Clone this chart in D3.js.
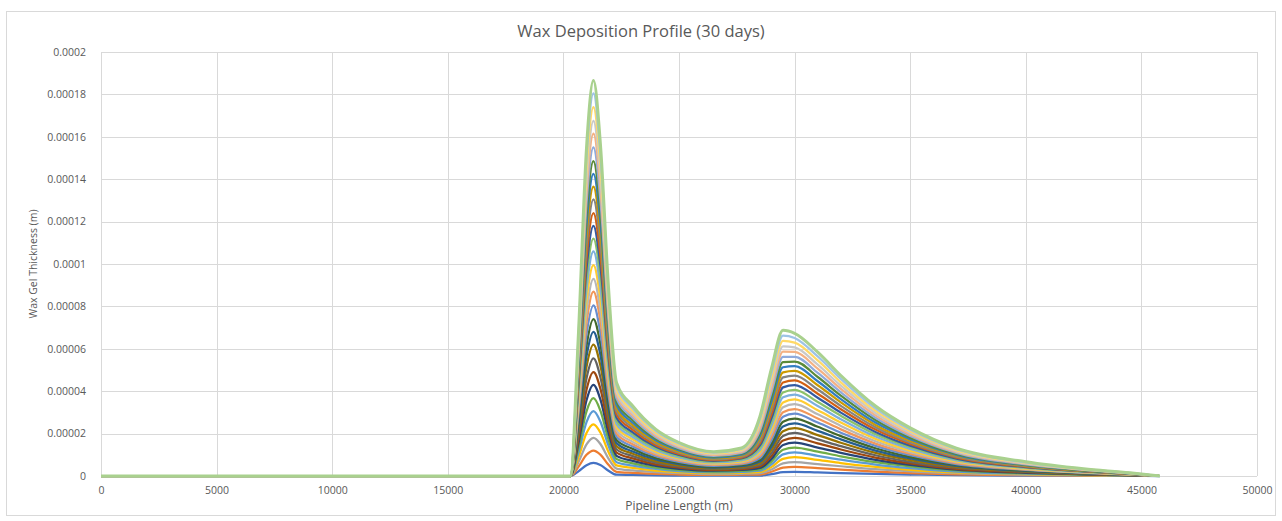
<!DOCTYPE html>
<html>
<head>
<meta charset="utf-8">
<script src="https://cdn.jsdelivr.net/npm/d3@7"></script>
<style>
  body { margin: 0; background: #fff; }
  svg text { font-family: "Open Sans", "DejaVu Sans", sans-serif; fill: #595959; }
</style>
</head>
<body>
<svg id="chart" width="1282" height="521"></svg>
<script>
const chartTitle = 'Wax Deposition Profile (30 days)'
const xTitle = 'Pipeline Length (m)'
const yTitle = 'Wax Gel Thickness (m)'

// x ticks (m) and y ticks (m)
const xTicks = [0, 5000, 10000, 15000, 20000, 25000, 30000, 35000, 40000, 45000, 50000]
const yTicks = [0, 0.00002, 0.00004, 0.00006, 0.00008, 0.0001, 0.00012, 0.00014, 0.00016, 0.00018, 0.0002]

// one line per day, Excel default series colours
const days = [1, 2, 3, 4, 5, 6, 7, 8, 9, 10, 11, 12, 13, 14, 15, 16, 17, 18, 19, 20, 21, 22, 23, 24, 25, 26, 27, 28, 29, 30]
const dayColors = [
  '#4472C4', '#ED7D31', '#A5A5A5', '#FFC000', '#5B9BD5', '#70AD47',
  '#264478', '#9E480E', '#636363', '#997300', '#255E91', '#43682B',
  '#698ED0', '#F1975A', '#B7B7B7', '#FFCD33', '#7CAFDD', '#8CC168',
  '#335AA1', '#D26012', '#848484', '#CC9A00', '#327DC2', '#5A8A39',
  '#8FAADC', '#F4B183', '#C9C9C9', '#FFD966', '#9DC3E6', '#A9D18E'
]

// distance along the pipeline (m)
const distances = [0, 20300, 20650, 21000, 21300, 21600, 21950, 22300, 23000, 24000, 25000, 26500, 27700,
  28500, 29000, 29500, 30000, 31000, 32000, 33500, 35000, 37000, 40000, 42500, 44500, 45800]

// wax gel thickness in micrometres, one row per day
const thicknessUm = [
  [0, 0, 2.2, 5.1, 6.2, 5.2, 2.5, 0.6, 0.5, 0.3, 0.2, 0.2, 0.2, 0.2, 0.9, 1.8, 2.0, 1.7, 1.4, 1.0, 0.7, 0.4, 0.2, 0.1, 0.04, 0],
  [0, 0, 4.3, 10, 12, 10.1, 5.3, 2, 1.5, 1, 0.7, 0.5, 0.6, 0.7, 2.0, 3.9, 4.3, 3.7, 3.0, 2.1, 1.4, 0.8, 0.4, 0.2, 0.1, 0],
  [0, 0, 6.5, 14.9, 18, 15.1, 8.2, 3.5, 2.6, 1.8, 1.3, 0.9, 1.05, 1.3, 3.1, 6.0, 6.6, 5.6, 4.6, 3.2, 2.2, 1.3, 0.6, 0.3, 0.15, 0],
  [0, 0, 8.8, 20.3, 24.4, 20.5, 11.3, 5, 3.8, 2.5, 1.8, 1.3, 1.5, 1.9, 4.3, 8.1, 8.9, 7.6, 6.1, 4.3, 2.9, 1.7, 0.9, 0.4, 0.2, 0],
  [0, 0, 11, 25.4, 30.6, 25.7, 14.3, 6.5, 4.9, 3.3, 2.3, 1.7, 1.95, 2.5, 5.5, 10.2, 11.2, 9.5, 7.7, 5.4, 3.7, 2.1, 1.1, 0.6, 0.25, 0],
  [0, 0, 13.2, 30.5, 36.7, 30.8, 17.2, 8, 6, 4, 2.9, 2.1, 2.4, 3.1, 6.8, 12.4, 13.4, 11.5, 9.3, 6.5, 4.5, 2.6, 1.3, 0.7, 0.3, 0],
  [0, 0, 15.5, 35.7, 43, 36.1, 20.3, 9.5, 7.1, 4.8, 3.4, 2.5, 2.85, 3.8, 8.1, 14.6, 15.7, 13.4, 10.9, 7.6, 5.2, 3.0, 1.5, 0.8, 0.35, 0],
  [0, 0, 17.6, 40.7, 49, 41.2, 23.1, 11, 8.3, 5.5, 4.0, 2.9, 3.3, 4.5, 9.4, 16.7, 18.0, 15.4, 12.5, 8.7, 6.0, 3.4, 1.8, 0.9, 0.4, 0],
  [0, 0, 20, 46.1, 55.5, 46.6, 26.3, 12.5, 9.4, 6.3, 4.5, 3.25, 3.75, 5.2, 10.8, 18.9, 20.3, 17.3, 14.1, 9.8, 6.7, 3.9, 2.0, 1.0, 0.45, 0],
  [0, 0, 22.3, 51.5, 62, 52.1, 29.3, 14, 10.5, 7, 5, 3.6, 4.2, 6.0, 12.3, 21.1, 22.6, 19.3, 15.7, 10.9, 7.5, 4.3, 2.2, 1.1, 0.5, 0],
  [0, 0, 24.5, 56.4, 68, 57.1, 32.2, 15.5, 11.6, 7.8, 5.6, 4.0, 4.65, 6.8, 13.8, 23.4, 24.8, 21.3, 17.3, 12, 8.3, 4.8, 2.4, 1.25, 0.55, 0],
  [0, 0, 26.6, 61.4, 74, 62.2, 35.1, 17, 12.8, 8.5, 6.1, 4.4, 5.1, 7.7, 15.3, 25.6, 27.1, 23.2, 18.8, 13.1, 9.0, 5.2, 2.6, 1.4, 0.6, 0],
  [0, 0, 29, 66.8, 80.5, 67.6, 38.3, 18.5, 13.9, 9.3, 6.7, 4.8, 5.55, 8.5, 16.9, 27.9, 29.4, 25.2, 20.4, 14.2, 9.8, 5.6, 2.9, 1.5, 0.65, 0],
  [0, 0, 31.3, 72.2, 87, 73.1, 41.3, 20, 15, 10, 7.2, 5.2, 6.0, 9.4, 18.5, 30.1, 31.6, 27.1, 22, 15.3, 10.5, 6.1, 3.1, 1.6, 0.7, 0],
  [0, 0, 33.5, 77.2, 93, 78.1, 44.3, 21.5, 16.1, 10.8, 7.7, 5.6, 6.45, 10.3, 20.2, 32.4, 33.9, 29.1, 23.6, 16.4, 11.3, 6.5, 3.3, 1.7, 0.75, 0],
  [0, 0, 35.8, 82.6, 99.5, 83.6, 47.3, 23, 17.3, 11.5, 8.3, 6.0, 6.9, 11.3, 21.9, 34.7, 36.1, 31, 25.2, 17.5, 12, 6.9, 3.5, 1.8, 0.8, 0],
  [0, 0, 38.2, 88, 106, 89, 50.5, 24.5, 18.4, 12.3, 8.8, 6.4, 7.35, 12.3, 23.7, 37.1, 38.4, 33, 26.8, 18.6, 12.8, 7.4, 3.8, 1.9, 0.85, 0],
  [0, 0, 40.3, 93, 112, 94.1, 53.3, 26, 19.5, 13, 9.4, 6.8, 7.8, 13.3, 25.5, 39.4, 40.6, 34.9, 28.4, 19.7, 13.6, 7.8, 4.0, 2.1, 0.9, 0],
  [0, 0, 42.5, 97.9, 118, 99.1, 56.3, 27.5, 20.6, 13.8, 9.9, 7.15, 8.25, 14.4, 27.3, 41.8, 42.9, 36.9, 29.9, 20.8, 14.3, 8.2, 4.2, 2.2, 0.95, 0],
  [0, 0, 44.6, 102.9, 124, 104.2, 59.1, 29, 21.8, 14.5, 10.4, 7.5, 8.7, 15.5, 29.2, 44.1, 45.1, 38.8, 31.5, 21.9, 15.1, 8.7, 4.4, 2.3, 1.0, 0],
  [0, 0, 47, 108.3, 130.5, 109.6, 62.3, 30.5, 22.9, 15.3, 11, 7.9, 9.15, 16.6, 31.2, 46.5, 47.3, 40.8, 33.1, 23, 15.8, 9.1, 4.7, 2.4, 1.05, 0],
  [0, 0, 49.1, 113.3, 136.5, 114.7, 65.1, 32, 24, 16, 11.5, 8.3, 9.6, 17.8, 33.2, 48.9, 49.6, 42.8, 34.7, 24.1, 16.6, 9.6, 4.9, 2.5, 1.1, 0],
  [0, 0, 51.3, 118.3, 142.5, 119.7, 68.1, 33.5, 25.1, 16.8, 12.1, 8.7, 10.05, 19.0, 35.2, 51.3, 51.8, 44.7, 36.3, 25.2, 17.4, 10, 5.1, 2.6, 1.15, 0],
  [0, 0, 53.5, 123.3, 148.5, 124.7, 71, 35, 26.3, 17.5, 12.6, 9.1, 10.5, 20.2, 37.3, 53.7, 54, 46.7, 37.9, 26.4, 18.1, 10.4, 5.3, 2.7, 1.2, 0],
  [0, 0, 55.8, 128.7, 155, 130.2, 74.1, 36.5, 27.4, 18.3, 13.1, 9.5, 10.95, 21.4, 39.5, 56.2, 56.2, 48.6, 39.5, 27.5, 18.9, 10.9, 5.5, 2.9, 1.25, 0],
  [0, 0, 58.1, 134, 161.5, 135.7, 77.1, 38, 28.5, 19, 13.7, 9.9, 11.4, 22.7, 41.7, 58.7, 58.5, 50.6, 41.1, 28.6, 19.6, 11.3, 5.8, 3.0, 1.3, 0],
  [0, 0, 60.3, 139, 167.5, 140.7, 80.1, 39.5, 29.6, 19.8, 14.2, 10.3, 11.85, 24.1, 43.9, 61.2, 60.7, 52.5, 42.6, 29.7, 20.4, 11.7, 6.0, 3.1, 1.35, 0],
  [0, 0, 62.6, 144.4, 174, 146.2, 83.1, 41, 30.8, 20.5, 14.8, 10.7, 12.3, 25.4, 46.2, 63.7, 62.9, 54.5, 44.2, 30.8, 21.2, 12.2, 6.2, 3.2, 1.4, 0],
  [0, 0, 65, 149.8, 180.5, 151.6, 86.3, 42.5, 31.9, 21.3, 15.3, 11.05, 12.75, 26.8, 48.5, 66.2, 65.1, 56.4, 45.8, 31.9, 21.9, 12.6, 6.4, 3.3, 1.45, 0],
  [0, 0, 67.1, 154.8, 186.5, 156.7, 89.1, 44, 33, 22, 15.8, 11.45, 13.2, 28.1, 50.8, 68.7, 67.3, 58.4, 47.4, 33, 22.7, 13.1, 6.7, 3.4, 1.5, 0]
]

const svg = d3.select('#chart')

// chart area border
svg.append('rect')
  .attr('x', 6.5).attr('y', 11.5)
  .attr('width', 1269).attr('height', 504)
  .attr('fill', '#fff')
  .attr('stroke', '#d9d9d9')

const x = d3.scaleLinear().domain([0, 50000]).range([101, 1257])
const y = d3.scaleLinear().domain([0, 0.0002]).range([476, 52])

// gridlines
svg.append('g')
  .selectAll('line')
  .data(yTicks)
  .enter().append('line')
  .attr('x1', x(0)).attr('x2', x(50000))
  .attr('y1', d => Math.round(y(d)) + 0.5).attr('y2', d => Math.round(y(d)) + 0.5)
  .attr('stroke', '#d9d9d9')

svg.append('g')
  .selectAll('line')
  .data(xTicks)
  .enter().append('line')
  .attr('x1', d => Math.round(x(d)) + 0.5).attr('x2', d => Math.round(x(d)) + 0.5)
  .attr('y1', y(0.0002)).attr('y2', y(0))
  .attr('stroke', '#d9d9d9')

// axes (labels only, Excel style)
const xAxis = svg.append('g')
  .attr('transform', `translate(0,${y(0) + 8})`)
  .call(d3.axisBottom(x).tickValues(xTicks).tickSize(0).tickFormat(d => String(d)))
xAxis.select('.domain').remove()
xAxis.selectAll('text')
  .style('font-size', '10.5px')
  .attr('fill', '#595959')

const yAxis = svg.append('g')
  .attr('transform', `translate(${x(0) - 12},0)`)
  .call(d3.axisLeft(y).tickValues(yTicks).tickSize(0).tickFormat(d => String(+d.toFixed(6))))
yAxis.select('.domain').remove()
yAxis.selectAll('text')
  .style('font-size', '10.5px')
  .attr('fill', '#595959')

// series, day 1 at the bottom, day 30 drawn last
const line = d3.line()
  .x((d, i) => x(distances[i]))
  .y(d => y(d * 1e-6))
  .curve(d3.curveMonotoneX)

svg.append('g')
  .selectAll('path')
  .data(thicknessUm)
  .enter().append('path')
  .attr('d', line)
  .attr('fill', 'none')
  .attr('stroke', (d, i) => dayColors[i])
  .attr('stroke-width', (d, i) => i === days.length - 1 ? 3 : 2.25)
  .attr('stroke-linejoin', 'round')

// titles
svg.append('text')
  .attr('x', 641).attr('y', 37)
  .attr('text-anchor', 'middle')
  .style('font-size', '16.5px')
  .text(chartTitle)

svg.append('text')
  .attr('x', (x(0) + x(50000)) / 2).attr('y', 510)
  .attr('text-anchor', 'middle')
  .style('font-size', '12px')
  .text(xTitle)

svg.append('text')
  .attr('transform', 'translate(37,264) rotate(-90)')
  .attr('text-anchor', 'middle')
  .style('font-size', '10.5px')
  .text(yTitle)
</script>
</body>
</html>
